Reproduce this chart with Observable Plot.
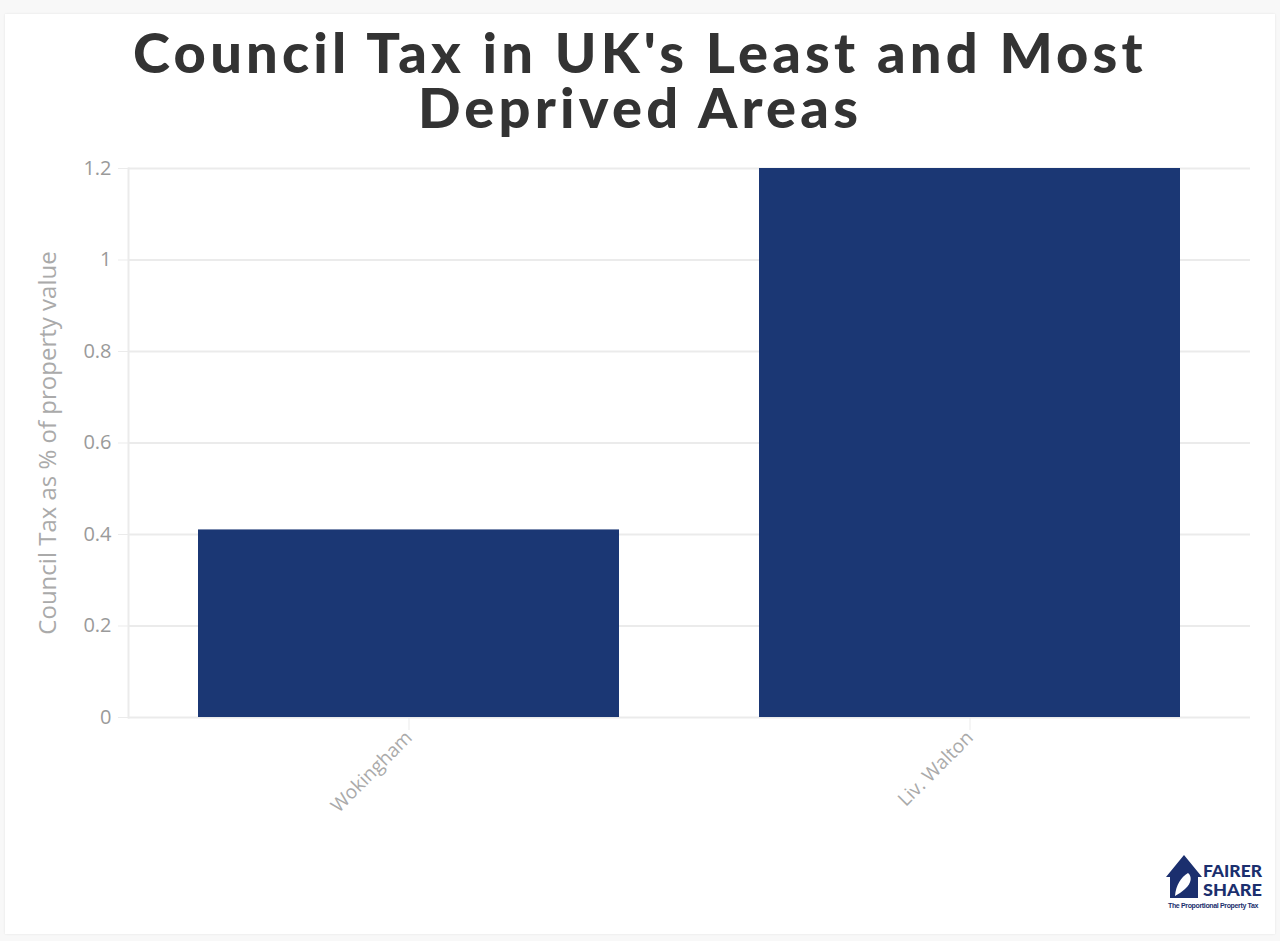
<!DOCTYPE html>
<html>
<head>
<meta charset="utf-8">
<script src="https://cdn.jsdelivr.net/npm/d3@7"></script>
<script src="https://cdn.jsdelivr.net/npm/@observablehq/plot@0.6"></script>
<style>
  html, body { margin: 0; padding: 0; background: #f8f8f8; width: 1280px; height: 941px; overflow: hidden; }
  #card { position: absolute; left: 5px; top: 14px; width: 1270px; height: 920px; background: #fff; box-shadow: 0 0 2px #e4e4e4; }
  .tline { position: absolute; left: 0; width: 1280px; text-align: center; font-family: Lato, "DejaVu Sans", sans-serif; font-weight: 900; font-size: 56px; line-height: 50px; color: #333; letter-spacing: 4.2px; white-space: nowrap; }
  #chart { position: absolute; left: 0; top: 150px; }
  #logo { position: absolute; left: 1160px; top: 852px; }
  #tagline { position: absolute; left: 1168px; top: 901px; font-family: "Liberation Sans", sans-serif; font-weight: 700; font-size: 7px; line-height: 9px; color: #1b2f6e; letter-spacing: -0.35px; white-space: nowrap; }
</style>
</head>
<body>
<div id="card"></div>
<div class="tline" style="top:27px">Council Tax in UK's Least and Most</div>
<div class="tline" style="top:82px">Deprived Areas</div>
<div id="chart"></div>
<svg id="logo" width="112" height="48" viewBox="0 0 112 48">
  <path d="M6 25 L24 3 L42 25 L38 25 L38 46 L10 46 L10 25 Z" fill="#1b2f6e"/>
  <path d="M15 44 C16 33 21 25 28 21 C32 24 32 31 25 37 C22 40 18 42 15 44 Z" fill="#fff"/>
  <text x="43" y="25" textLength="59" lengthAdjust="spacingAndGlyphs" font-family="Lato, 'DejaVu Sans', sans-serif" font-weight="900" font-size="16" fill="#1b2f6e">FAIRER</text>
  <text x="43" y="44" textLength="59" lengthAdjust="spacingAndGlyphs" font-family="Lato, 'DejaVu Sans', sans-serif" font-weight="900" font-size="16" fill="#1b2f6e">SHARE</text>
</svg>
<div id="tagline">The Proportional Property Tax</div>
<script>
const areas = ["Wokingham", "Liv. Walton"];
const taxPct = [0.41, 1.2];
const yTicks = [0, 0.2, 0.4, 0.6, 0.8, 1, 1.2];
const yTickLabels = ["0", "0.2", "0.4", "0.6", "0.8", "1", "1.2"];
const yTitle = "Council Tax as % of property value";

const data = areas.map((a, i) => ({area: a, value: taxPct[i]}));

const plot = Plot.plot({
  width: 1280,
  height: 650,
  marginLeft: 128,
  marginRight: 30,
  marginTop: 18,
  marginBottom: 83,
  style: {fontFamily: "'Open Sans', sans-serif", background: "transparent", overflow: "visible"},
  x: {domain: areas, padding: 0.25, paddingOuter: 0.125, label: null},
  y: {domain: [0, 1.2], label: null},
  marks: [
    Plot.gridY(yTicks, {stroke: "#ebebeb", strokeOpacity: 1, strokeWidth: 2}),
    Plot.frame({anchor: "left", stroke: "#ebebeb", strokeWidth: 2}),
    Plot.barY(data, {x: "area", y: "value", fill: "#1b3774"}),
    Plot.axisY({
      ticks: yTicks,
      tickFormat: d => yTickLabels[yTicks.indexOf(d)],
      tickSize: 10, tickPadding: 7, stroke: "#ebebeb",
      fill: "#9a9a9a", fontSize: 20, label: null
    }),
    Plot.axisX({
      tickSize: 13, tickPadding: 4, tickRotate: -45, stroke: "#ebebeb",
      fill: "#aaaaaa", fontSize: 19, label: null
    }),
    Plot.text([yTitle], {
      frameAnchor: "left", dx: -80, rotate: -90, fill: "#aaaaaa", fontSize: 24, textAnchor: "middle",
      letterSpacing: 1.4
    })
  ]
});
document.getElementById("chart").appendChild(plot);
</script>
</body>
</html>
